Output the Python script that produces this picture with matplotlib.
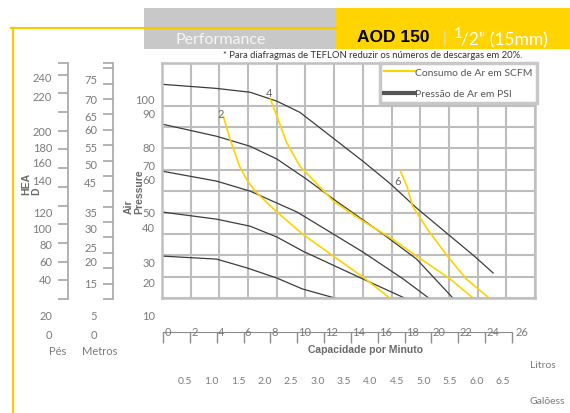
import numpy as np
import matplotlib.pyplot as plt
from matplotlib.lines import Line2D
from matplotlib.patches import Rectangle
from matplotlib.transforms import blended_transform_factory

plt.rcParams['font.family'] = ['Lato', 'DejaVu Sans']

W, H = 570, 414
YELLOW = '#FFD200'
GRAY = '#7a7a7a'
DARK = '#3c3c3c'

# curvas de pressao de ar (PSI) - capacidade em litros/min x altura
cap_a = [0, 4.0, 6.5, 8.5, 10.2, 12.4, 14.9, 16.9, 18.9, 21.4, 23.2, 24.6]
head_a = [100, 98.1, 96.3, 92.1, 86.9, 76.2, 64.0, 53.7, 42.1, 29.0, 19.6, 11.7]
cap_b = [0, 4.0, 6.5, 8.5, 10.7, 12.7, 16.4, 18.9, 21.6]
head_b = [81.3, 75.7, 71.0, 65.0, 55.6, 46.3, 29.9, 18.2, 0]
cap_c = [0, 4.0, 6.5, 10.0, 12.7, 14.9, 17.9, 19.8]
head_c = [59.3, 54.7, 50.0, 40.2, 29.9, 21.5, 8.9, 0]
cap_d = [0, 4.0, 6.5, 8.5, 10.4, 12.8, 14.9, 18.0]
head_d = [40.2, 36.9, 33.6, 28.5, 22.0, 15.0, 8.9, 0]
cap_e = [0, 4.0, 6.3, 8.5, 10.4, 12.8]
head_e = [19.6, 18.2, 14.0, 9.3, 4.2, 0]

# curvas de consumo de ar (SCFM)
scfm2_cap = [4.5, 5.0, 5.7, 6.3, 7.0, 8.5, 10.4, 12.7, 14.9, 16.9]
scfm2_head = [85.0, 74.3, 61.7, 54.7, 49.1, 40.2, 29.9, 19.6, 9.8, 0]
scfm4_cap = [8.0, 8.5, 9.2, 10.2, 11.7, 12.7, 14.9, 17.1, 18.9, 21.4, 23.1]
scfm4_head = [93.0, 85.0, 72.9, 61.7, 51.9, 45.3, 36.0, 27.6, 19.6, 8.9, 0]
scfm6_cap = [17.7, 18.2, 18.6, 19.7, 21.2, 22.6, 24.3]
scfm6_head = [59.3, 51.9, 43.0, 32.2, 19.6, 8.9, 0]
scfm_names = ['2', '4', '6']
scfm_name_cap = [4.3, 7.9, 17.5]
scfm_name_head = [86.5, 96.0, 55.2]

# escalas laterais (valores e linha em pixels onde aparecem)
pes_vals = [240, 220, 200, 180, 160, 140, 120, 100, 80, 60, 40, 20, 0]
pes_rows = [77, 97, 132, 148, 163, 181, 213, 229, 245, 262, 280, 316, 335]
metros_vals = [75, 70, 65, 60, 55, 50, 45, 35, 30, 25, 20, 15, 5, 0]
metros_rows = [80, 100, 117, 130, 148, 165, 183, 213, 229, 248, 262, 284, 316, 335]
psi_vals = [100, 90, 80, 70, 60, 50, 40, 30, 20, 10]
psi_rows = [100, 114, 148, 166, 180, 213, 228, 263, 283, 316]

cap_ticks = list(range(0, 27, 2))
gal_ticks = [0.5, 1.0, 1.5, 2.0, 2.5, 3.0, 3.5, 4.0, 4.5, 5.0, 5.5, 6.0, 6.5]


def px_rect(x0, y0, x1, y1):
    return [x0 / W, 1 - y1 / H, (x1 - x0) / W, (y1 - y0) / H]


fig = plt.figure(figsize=(W / 100, H / 100), dpi=100)

# fundo decorativo: cabecalho, moldura e textos soltos
deco = fig.add_axes([0, 0, 1, 1], zorder=-1)
deco.set_xlim(0, W)
deco.set_ylim(H, 0)
deco.axis('off')
deco.add_patch(Rectangle((144, 9), 192, 41, color='#c8c8c8', lw=0))
deco.add_patch(Rectangle((336, 9), 234, 41, color='#FFD400', lw=0))
deco.plot([11, 336], [29, 29], color='#F5CB00', lw=1.5)
deco.plot([13, 13], [29, 414], color='#F5CB00', lw=1.6)
deco.text(221, 40, 'Performance', color='#f6f6f6', fontsize=11.5, ha='center', va='center')
deco.text(357, 38, 'AOD 150', family='Liberation Sans', weight='bold', fontsize=12.5,
          color='black', va='center')
deco.text(445, 38, '|', color='#dcdcdc', fontsize=11, va='center', ha='center')
deco.text(454, 34, '1', color='white', fontsize=10.5, va='center')
deco.text(461, 40, '/2\u201d (15mm)', color='white', fontsize=12.5, va='center')
deco.text(373, 56, '* Para diafragmas de TEFLON reduzir os números de descargas em 20%.',
          fontsize=6.8, color='#333333', ha='center', va='center')
deco.text(58, 352, 'Pés', color=GRAY, fontsize=8, ha='center', va='center')
deco.text(100, 352, 'Metros', color=GRAY, fontsize=8, ha='center', va='center')
deco.text(530, 366, 'Litros', color=GRAY, fontsize=7.5, va='center')
deco.text(530, 402, 'Galõess', color=GRAY, fontsize=7.5, va='center')
deco.text(365, 350, 'Capacidade por Minuto', family='Liberation Sans', weight='bold',
          fontsize=7.5, color='#6a6a6a', ha='center', va='center')
deco.text(21, 195, 'HEA\nD', family='Liberation Sans', weight='bold', fontsize=7.5,
          color='#6a6a6a', rotation=90, ha='left', va='bottom', multialignment='left',
          linespacing=1.05)
deco.text(124, 214, 'Air\nPressure', family='Liberation Sans', weight='bold', fontsize=7.5,
          color='#6a6a6a', rotation=90, ha='left', va='bottom', multialignment='left',
          linespacing=1.05)

# grafico principal
ax = fig.add_axes(px_rect(162, 64, 535, 299))
xmin, xmax = -0.075, 27.72
ax.set_xlim(xmin, xmax)
ax.set_ylim(0, 110)
ax.set_xticks([])
ax.set_yticks([])
for gx in np.linspace(xmin, xmax, 14):
    ax.axvline(gx, color='#bdbdbd', lw=1.5, zorder=1)
for gy in [0, 10, 20, 30, 40, 50, 60, 70, 80, 90, 110]:
    ax.axhline(gy, color='#bdbdbd', lw=1.5, zorder=1)
for s in ax.spines.values():
    s.set_color('#c0c0c0')
    s.set_linewidth(1.8)

for c, h in [(cap_a, head_a), (cap_b, head_b), (cap_c, head_c), (cap_d, head_d), (cap_e, head_e)]:
    ax.plot(c, h, color=DARK, lw=0.9, clip_on=False, zorder=2)
for c, h in [(scfm2_cap, scfm2_head), (scfm4_cap, scfm4_head), (scfm6_cap, scfm6_head)]:
    ax.plot(c, h, color=YELLOW, lw=1.2, clip_on=False, zorder=2)
for n, c, h in zip(scfm_names, scfm_name_cap, scfm_name_head):
    ax.text(c, h, n, color='#666666', fontsize=8, ha='center', va='center')

handles = [Line2D([], [], color=YELLOW, lw=1.5), Line2D([], [], color='#555555', lw=3)]
leg = ax.legend(handles, ['Consumo de Ar em SCFM', 'Pressão de Ar em PSI'],
                loc='upper right', bbox_to_anchor=(1.005, 1.0), borderaxespad=0,
                fancybox=False, framealpha=1, edgecolor='#c8c8c8', handlelength=2.9,
                handletextpad=0, labelspacing=1.15, borderpad=0.45, fontsize=7.5,
                labelcolor='#555555')
leg.get_frame().set_linewidth(2.5)
leg.set_zorder(5)

# eixo de capacidade (litros)
axc = fig.add_axes(px_rect(162, 323, 535, 333))
axc.set_xlim(xmin, xmax)
axc.patch.set_visible(False)
for s in ['top', 'right', 'left']:
    axc.spines[s].set_visible(False)
axc.spines['bottom'].set_bounds(0, 26)
axc.spines['bottom'].set_color('#8c8c8c')
axc.set_yticks([])
axc.set_xticks(cap_ticks)
axc.tick_params(axis='x', length=8, width=1, color='#8c8c8c', labelbottom=False)
tr = blended_transform_factory(axc.transData, axc.transAxes)
for v in cap_ticks:
    axc.text(v + 0.1 if v < 26 else v + 0.3, 0.05, str(v), transform=tr, color=GRAY,
             fontsize=8, ha='left', va='center')

# eixo de galoes
axg = fig.add_axes(px_rect(158.5, 377, 529.5, 387))
axg.set_xlim(0, 7)
axg.axis('off')
trg = blended_transform_factory(axg.transData, axg.transAxes)
for g in gal_ticks:
    axg.text(g, 0.5, f'{g:.1f}', transform=trg, color=GRAY, fontsize=7.5,
             ha='center', va='center')


def side_scale(x_px, tick_rows, vals, rows, pad, spine=True):
    sa = fig.add_axes(px_rect(x_px, 0, x_px + 20, H))
    sa.set_xlim(0, 1)
    sa.set_ylim(H, 0)
    sa.patch.set_visible(False)
    for s in ['top', 'right', 'bottom']:
        sa.spines[s].set_visible(False)
    sa.spines['left'].set_visible(spine)
    sa.spines['left'].set_bounds(64, 300)
    sa.spines['left'].set_color('#a6a6a6')
    sa.spines['left'].set_linewidth(1.2)
    sa.set_xticks([])
    sa.set_yticks(rows, [str(v) for v in vals])
    sa.set_yticks(tick_rows, minor=True)
    sa.tick_params(axis='y', which='major', length=0, pad=pad, labelsize=8, labelcolor=GRAY)
    sa.tick_params(axis='y', which='minor', length=7.2 if spine else 0, width=1.2,
                   color='#a6a6a6')
    return sa


side_scale(68, [64] + list(np.linspace(75.7, 300, 13)), pes_vals, pes_rows, 11.5)
side_scale(113, [64] + list(np.linspace(69.3, 300, 16)), metros_vals, metros_rows, 11.5)
side_scale(162, [], psi_vals, psi_rows, 5, spine=False)

fig.savefig('out.png', dpi=100)
